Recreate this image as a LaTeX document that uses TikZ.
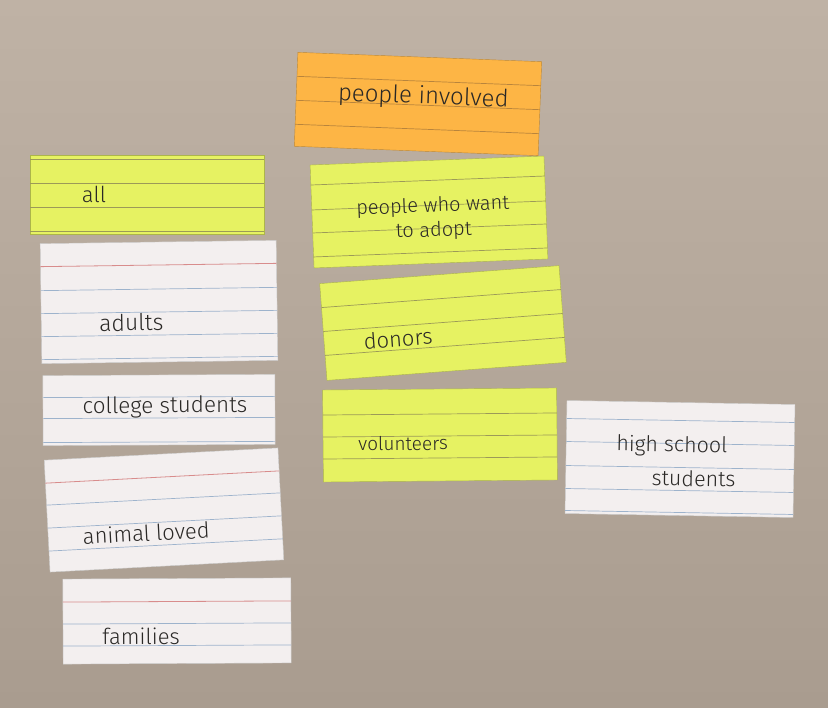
\documentclass[tikz,border=0pt]{standalone}
\usepackage{fontspec}
\setmainfont{Fira Sans}[UprightFont=* Light]
\definecolor{wallTop}{HTML}{BFB2A5}
\definecolor{wallBot}{HTML}{A99C8F}
\definecolor{orangeCard}{HTML}{FDB545}
\definecolor{orangeRule}{HTML}{B8843C}
\definecolor{yellowCard}{HTML}{E6F262}
\definecolor{yellowRule}{HTML}{9C9A58}
\definecolor{whiteCard}{HTML}{F3EFEF}
\definecolor{redRule}{HTML}{D88C8C}
\definecolor{blueRule}{HTML}{9DB3CC}
\definecolor{ink}{HTML}{2A2826}
\newcommand\cardlines[4]{%
  \foreach \o in {#4}{\draw[#3] ({-#1/2},{-#2/2+\o}) -- ({#1/2},{-#2/2+\o});}}
\begin{document}
\begin{tikzpicture}[x=1pt,y=-1pt,
  cardbox/.style={transform shape, inner sep=0pt, outer sep=0pt, line width=0.4pt},
  orangebox/.style={cardbox, fill=orangeCard, draw=orangeCard!75!black},
  yellowbox/.style={cardbox, fill=yellowCard, draw=yellowCard!75!black},
  whitebox/.style={cardbox, fill=whiteCard, draw=black!20},
  orule/.style={draw=orangeRule, line width=0.7pt},
  yrule/.style={draw=yellowRule, line width=0.7pt},
  rrule/.style={draw=redRule, line width=0.8pt},
  brule/.style={draw=blueRule, line width=0.7pt},
  hand/.style={transform shape, inner sep=0pt, text=ink, font=\fontsize{22}{24}\selectfont}]
\useasboundingbox (0,0) rectangle (828,708);
\fill[top color=wallTop, bottom color=wallBot] (0,0) rectangle (828,708);

% people involved (orange)
\begin{scope}[shift={(418,104)}, rotate=-2.2]
  \node[orangebox, minimum width=244pt, minimum height=94pt] (cInvolved) at (0,0) {};
  \cardlines{244}{94}{orule}{24,48,72}
  \node[hand, font=\fontsize{24}{26}\selectfont] (tInvolved) at (5,-7) {people involved};
\end{scope}

% all
\begin{scope}[shift={(147,195)}]
  \node[yellowbox, minimum width=234pt, minimum height=79pt] (cAll) at (0,0) {};
  \cardlines{234}{79}{yrule}{4,28,52,76}
  \node[hand] (tAll) at (-53,-1) {all};
\end{scope}

% adults
\begin{scope}[shift={(159,302)}, rotate=0.8]
  \node[whitebox, minimum width=236pt, minimum height=120pt] (cAdults) at (0,0) {};
  \cardlines{236}{120}{rrule}{23}
  \cardlines{236}{120}{brule}{47,70,93,116}
  \node[hand, font=\fontsize{23}{24}\selectfont] (tAdults) at (-28,20) {adults};
\end{scope}

% college students
\begin{scope}[shift={(159,410)}, rotate=0.3]
  \node[whitebox, minimum width=232pt, minimum height=70pt] (cCollege) at (0,0) {};
  \cardlines{232}{70}{brule}{22,43,67}
  \node[hand, font=\fontsize{22.5}{24}\selectfont] (tCollege) at (6,-3) {college students};
\end{scope}

% animal loved
\begin{scope}[shift={(164,510)}, rotate=3]
  \node[whitebox, minimum width=234pt, minimum height=112pt] (cAnimal) at (0,0) {};
  \cardlines{234}{112}{rrule}{23}
  \cardlines{234}{112}{brule}{45,68,91}
  \node[hand] (tAnimal) at (-19,22) {animal loved};
\end{scope}

% families
\begin{scope}[shift={(177,621)}, rotate=0.3]
  \node[whitebox, minimum width=228pt, minimum height=85pt] (cFamilies) at (0,0) {};
  \cardlines{228}{85}{rrule}{23}
  \cardlines{228}{85}{brule}{45,67}
  \node[hand] (tFamilies) at (-36,15) {families};
\end{scope}

% people who want to adopt
\begin{scope}[shift={(429,212)}, rotate=2.2]
  \node[yellowbox, minimum width=234pt, minimum height=103pt] (cAdopt) at (0,0) {};
  \cardlines{234}{103}{yrule}{20,45,68,92}
  \node[hand, align=center, font=\fontsize{20}{24.5}\selectfont] (tAdopt) at (4,7) {people who want\\to adopt};
\end{scope}

% donors
\begin{scope}[shift={(443,323)}, rotate=4.3]
  \node[yellowbox, minimum width=240pt, minimum height=97pt] (cDonors) at (0,0) {};
  \cardlines{240}{97}{yrule}{24,48,72}
  \node[hand] (tDonors) at (-46,12) {donors};
\end{scope}

% volunteers
\begin{scope}[shift={(440,435)}, rotate=0.5]
  \node[yellowbox, minimum width=234pt, minimum height=92pt] (cVolunteers) at (0,0) {};
  \cardlines{234}{92}{yrule}{25,47,69}
  \node[hand, font=\fontsize{19}{20}\selectfont] (tVolunteers) at (-37,8) {volunteers};
\end{scope}

% high school students
\begin{scope}[shift={(680,459)}, rotate=-1]
  \node[whitebox, minimum width=228pt, minimum height=113pt] (cHigh) at (0,0) {};
  \cardlines{228}{113}{brule}{18,41,65,88,110}
  \node[hand, align=left, font=\fontsize{21.5}{34}\selectfont] (tHigh) at (-4,2) {high school\\\hspace*{36pt}students};
\end{scope}
\end{tikzpicture}
\end{document}
